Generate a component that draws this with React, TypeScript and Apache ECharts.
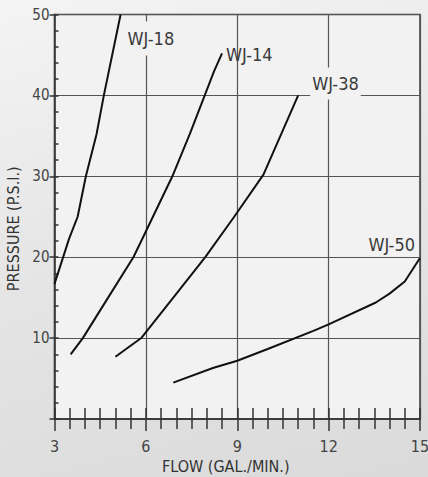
import React, { useEffect, useRef } from 'react';
import * as echarts from 'echarts';

const flowTicks = [3, 6, 9, 12, 15];
const pressureTicks = [10, 20, 30, 40, 50];
const seriesNames = ['WJ-18', 'WJ-14', 'WJ-38', 'WJ-50'];

const wj18 = [[3.0, 16.7], [3.48, 22.3], [3.76, 25], [4.03, 30], [4.38, 35.2], [4.62, 40], [5.17, 50]];
const wj14 = [[3.53, 8], [3.93, 10], [4.76, 15], [5.59, 20], [5.9, 22.4], [6.87, 30], [7.45, 35.3], [8.24, 43], [8.5, 45.2]];
const wj38 = [[5.0, 7.7], [5.86, 10.05], [6.9, 15], [7.95, 20], [8.9, 25], [9.86, 30.2], [11.0, 40]];
const wj50 = [[6.9, 4.5], [8.2, 6.3], [9, 7.2], [10, 8.65], [11.5, 10.9], [12, 11.7], [13.55, 14.4], [14.0, 15.5], [14.5, 17], [15, 19.9]];

const FONT = "'Liberation Sans Narrow', 'DejaVu Sans Condensed', 'Liberation Sans', sans-serif";
const PLOT_BG = '#f2f2f2';

export default function App() {
  const ref = useRef<HTMLDivElement>(null);
  useEffect(() => {
    document.body.style.margin = '0';
    const chart = echarts.init(ref.current!, undefined, { renderer: 'svg' });
    const data = [wj18, wj14, wj38, wj50];
    const labelCfg: any[] = [
      { offset: [5, 24], backgroundColor: PLOT_BG, padding: [8, 2, 8, 2] },
      { offset: [4, 1] },
      { offset: [12, -12], backgroundColor: PLOT_BG, padding: [10, 2, 4, 2] },
      { offset: [-5, -14], align: 'right', position: 'left', distance: 0 },
    ];
    chart.setOption({
      animation: false,
      backgroundColor: 'transparent',
      textStyle: { fontFamily: FONT },
      grid: {
        left: 54.5, right: 8, top: 14.5, bottom: 58,
        outerBoundsMode: 'none', containLabel: false,
        show: true, backgroundColor: PLOT_BG, borderColor: '#3a3a3a', borderWidth: 1.5,
      },
      xAxis: [
        {
          type: 'value', min: flowTicks[0], max: flowTicks[flowTicks.length - 1], interval: 3,
          position: 'bottom',
          axisLine: { show: true, lineStyle: { color: '#333', width: 1.5 } },
          axisTick: { show: true, inside: false, length: 12, lineStyle: { color: '#333', width: 1.5 } },
          minorTick: { show: true, splitNumber: 6, length: 10, lineStyle: { color: '#333', width: 1.5 } },
          splitLine: { show: true, lineStyle: { color: '#555', width: 1.2 } },
          axisLabel: { fontSize: 16, color: '#444', margin: 19, fontFamily: FONT },
          name: 'FLOW (GAL./MIN.)', nameLocation: 'middle', nameGap: 39,
          nameTextStyle: { fontSize: 16, color: '#333', fontFamily: FONT, padding: [0, 23, 0, 0] },
        },
        {
          type: 'value', min: flowTicks[0], max: flowTicks[flowTicks.length - 1], interval: 3,
          position: 'bottom',
          axisLine: { show: false },
          axisTick: { show: true, inside: true, length: 11, lineStyle: { color: '#333', width: 1.5 } },
          minorTick: { show: true, splitNumber: 6, length: 11, lineStyle: { color: '#333', width: 1.5 } },
          splitLine: { show: false },
          axisLabel: { show: false },
        },
      ],
      yAxis: [
        {
          type: 'value', min: 0, max: pressureTicks[pressureTicks.length - 1], interval: 10,
          position: 'left',
          axisLine: { show: true, lineStyle: { color: '#333', width: 1.5 } },
          axisTick: { show: true, inside: false, length: 5, lineStyle: { color: '#333', width: 1.5 } },
          splitLine: { show: true, lineStyle: { color: '#555', width: 1.2 } },
          axisLabel: {
            fontSize: 15, color: '#444', margin: 5, fontFamily: FONT,
            formatter: (v: number) => (pressureTicks.includes(v) ? String(v) : ''),
          },
          name: 'PRESSURE (P.S.I.)', nameLocation: 'middle', nameGap: 31,
          nameTextStyle: { fontSize: 16, color: '#333', fontFamily: FONT, padding: [0, 24, 0, 0] },
        },
        {
          type: 'value', min: 0, max: pressureTicks[pressureTicks.length - 1], interval: 10,
          position: 'left',
          axisLine: { show: false },
          axisTick: { show: true, inside: true, length: 4, lineStyle: { color: '#333', width: 1.5 } },
          minorTick: { show: true, splitNumber: 5, length: 4, lineStyle: { color: '#333', width: 1.5 } },
          splitLine: { show: false },
          axisLabel: { show: false },
        },
      ],
      series: data.map((d, i) => ({
        type: 'line',
        name: seriesNames[i],
        data: d,
        xAxisIndex: 0,
        yAxisIndex: 0,
        showSymbol: false,
        symbol: 'none',
        lineStyle: { color: '#111', width: 2 },
        endLabel: {
          show: true,
          formatter: seriesNames[i],
          fontSize: 18,
          color: '#3a3a3a',
          fontFamily: FONT,
          position: 'right',
          align: 'left',
          verticalAlign: 'middle',
          distance: 0,
          ...labelCfg[i],
        },
      })),
    });
    return () => chart.dispose();
  }, []);
  return (
    <div
      style={{
        width: 428,
        height: 477,
        background: 'linear-gradient(165deg, #f4f4f4 0%, #e6e6e6 45%, #dadada 100%)',
      }}
    >
      <div ref={ref} style={{ width: 428, height: 477 }} />
    </div>
  );
}
